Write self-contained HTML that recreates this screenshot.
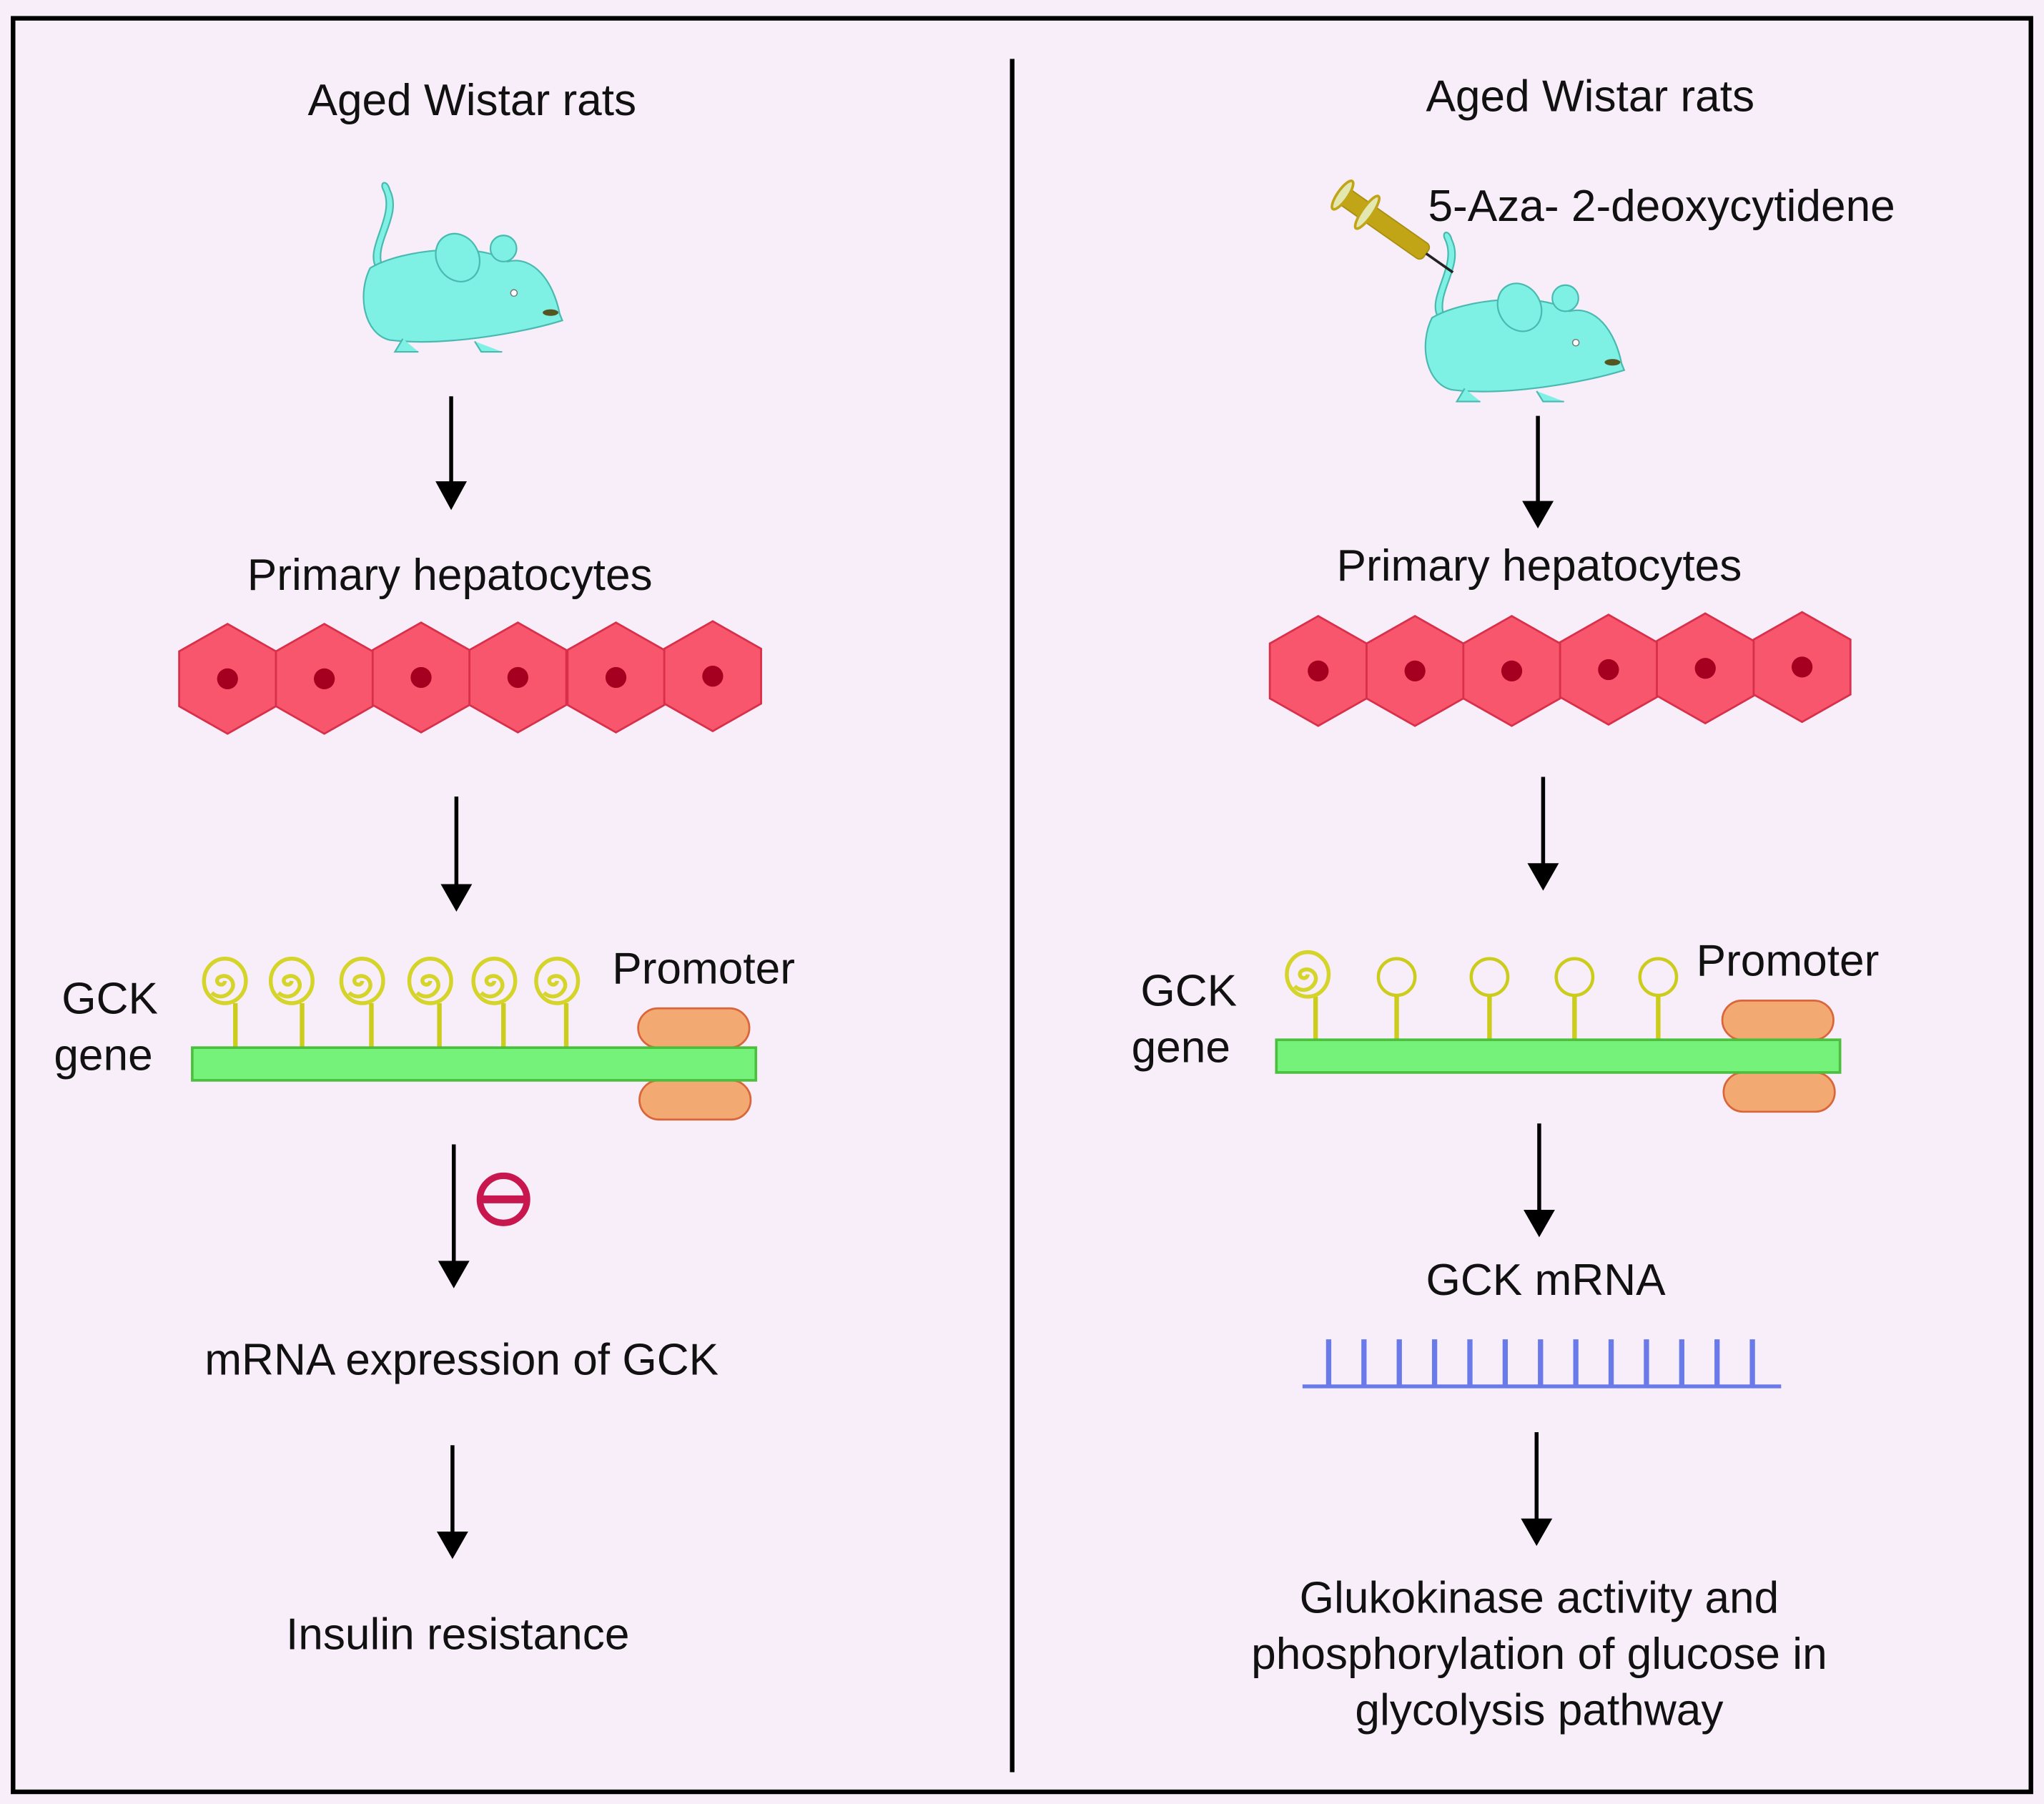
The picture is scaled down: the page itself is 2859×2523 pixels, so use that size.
<!DOCTYPE html>
<html><head><meta charset="utf-8"><style>
html,body{margin:0;padding:0;background:#f8eefa}
svg{display:block}
text{font-family:"Liberation Sans",sans-serif;fill:#111;font-size:34px}
</style></head><body>
<svg width="2859" height="2523" viewBox="0 0 1563 1379.3" preserveAspectRatio="none" xmlns="http://www.w3.org/2000/svg">
<defs>
<g id="hex"><polygon points="0,-42 37,-21 37,21 0,42 -37,21 -37,-21" fill="#f7566c" stroke="#d8304a" stroke-width="1.5"/><circle r="8" fill="#a50020"/></g>
<g id="spiral" fill="none" stroke="#d4d42a" stroke-width="3">
<path d="M0,0 a3,3 0 1 1 -4,-3 a7,7 0 0 1 10,8 a10,11 0 0 1 -16,4"/>
<ellipse rx="16" ry="17"/>
</g>
<g id="mouse">
<path d="M10,-40 C0,-55 25,-80 15,-100 C12,-106 18,-108 20,-100 C30,-80 8,-60 14,-42" fill="#7ef0e4" stroke="#4ab9b0" stroke-width="1.2"/>
<path d="M5,-40 C30,-55 90,-60 110,-45 C130,-50 145,-30 150,-5 L152,0 C120,10 60,20 20,15 C0,10 -5,-20 5,-40Z" fill="#7ef0e4" stroke="#4ab9b0" stroke-width="1.2"/>
<ellipse cx="72" cy="-48" rx="16" ry="19" transform="rotate(-30 72 -48)" fill="#7ef0e4" stroke="#4ab9b0" stroke-width="1.2"/>
<circle cx="107" cy="-55" r="10" fill="#7ef0e4" stroke="#4ab9b0" stroke-width="1.2"/>
<circle cx="115" cy="-21" r="2.5" fill="#fff" stroke="#777" stroke-width="0.8"/>
<ellipse cx="143" cy="-6" rx="6" ry="2.5" fill="#552"/>
<path d="M30,14 l-6,10 h18 M85,16 l5,8 h16" fill="#7ef0e4" stroke="#4ab9b0" stroke-width="1.2"/>
</g>
</defs>
<rect x="0" y="0" width="1563" height="1380" fill="#f8eefa"/>
<rect x="10" y="14" width="1543" height="1356" fill="none" stroke="#000" stroke-width="3.5"/>
<line x1="774" y1="45" x2="774" y2="1355" stroke="#000" stroke-width="3.5"/>

<g fill="#000" stroke="#000" stroke-width="3">
<line x1="345" y1="303" x2="345" y2="372"/><polygon points="333,368 357,368 345,390" stroke="none"/>
<line x1="349" y1="609" x2="349" y2="680"/><polygon points="337,676 361,676 349,697" stroke="none"/>
<line x1="347" y1="875" x2="347" y2="968"/><polygon points="335,964 359,964 347,985" stroke="none"/>
<line x1="346" y1="1105" x2="346" y2="1175"/><polygon points="334,1171 358,1171 346,1192" stroke="none"/>
<line x1="1176" y1="318" x2="1176" y2="387"/><polygon points="1164,383 1188,383 1176,404" stroke="none"/>
<line x1="1180" y1="594" x2="1180" y2="664"/><polygon points="1168,660 1192,660 1180,681" stroke="none"/>
<line x1="1177" y1="859" x2="1177" y2="929"/><polygon points="1165,925 1189,925 1177,946" stroke="none"/>
<line x1="1175" y1="1095" x2="1175" y2="1165"/><polygon points="1163,1161 1187,1161 1175,1182" stroke="none"/>
</g>

<text x="361" y="88" text-anchor="middle">Aged Wistar rats</text>
<text x="1216" y="85" text-anchor="middle">Aged Wistar rats</text>
<text x="1092" y="169">5-Aza- 2-deoxycytidene</text>
<text x="344" y="451" text-anchor="middle">Primary hepatocytes</text>
<text x="1177" y="444" text-anchor="middle">Primary hepatocytes</text>
<text x="84" y="775" text-anchor="middle">GCK</text>
<text x="79" y="818" text-anchor="middle">gene</text>
<text x="909" y="769" text-anchor="middle">GCK</text>
<text x="903" y="812" text-anchor="middle">gene</text>
<text x="538" y="752" text-anchor="middle">Promoter</text>
<text x="1367" y="746" text-anchor="middle">Promoter</text>
<text x="353" y="1051" text-anchor="middle">mRNA expression of GCK</text>
<text x="350" y="1261" text-anchor="middle">Insulin resistance</text>
<text x="1182" y="990" text-anchor="middle">GCK mRNA</text>
<text x="1177" y="1233" text-anchor="middle">Glukokinase activity and</text>
<text x="1177" y="1276" text-anchor="middle">phosphorylation of glucose in</text>
<text x="1177" y="1319" text-anchor="middle">glycolysis pathway</text>

<use href="#mouse" x="278" y="245"/>
<use href="#mouse" x="1090" y="283"/>

<g transform="translate(1025,148) rotate(35)">
<rect x="0" y="-7" width="80" height="14" rx="4" fill="#c2a516" stroke="#a88f10"/>
<line x1="80" y1="0" x2="105" y2="0" stroke="#222" stroke-width="2"/>
<ellipse cx="2" cy="0" rx="4" ry="13" fill="#e3e8b0" stroke="#c2a516" stroke-width="2"/>
<ellipse cx="25" cy="0" rx="4" ry="15" fill="#e3e8b0" stroke="#c2a516" stroke-width="2"/>
</g>

<use href="#hex" x="174" y="519"/><use href="#hex" x="248" y="519"/><use href="#hex" x="322" y="518"/>
<use href="#hex" x="396" y="518"/><use href="#hex" x="471" y="518"/><use href="#hex" x="545" y="517"/>
<use href="#hex" x="1008" y="513"/><use href="#hex" x="1082" y="513"/><use href="#hex" x="1156" y="513"/>
<use href="#hex" x="1230" y="512"/><use href="#hex" x="1304" y="511"/><use href="#hex" x="1378" y="510"/>

<g stroke="#cccc1c" stroke-width="3.5">
<line x1="180" y1="767" x2="180" y2="801"/><line x1="231" y1="767" x2="231" y2="801"/><line x1="284" y1="767" x2="284" y2="801"/>
<line x1="336" y1="767" x2="336" y2="801"/><line x1="385" y1="767" x2="385" y2="801"/><line x1="433" y1="767" x2="433" y2="801"/>
<line x1="1006" y1="762" x2="1006" y2="795"/><line x1="1068" y1="762" x2="1068" y2="795"/><line x1="1139" y1="762" x2="1139" y2="795"/>
<line x1="1204" y1="762" x2="1204" y2="795"/><line x1="1268" y1="762" x2="1268" y2="795"/>
</g>
<use href="#spiral" x="172" y="750"/><use href="#spiral" x="223" y="750"/><use href="#spiral" x="277" y="750"/>
<use href="#spiral" x="329" y="750"/><use href="#spiral" x="378" y="750"/><use href="#spiral" x="426" y="750"/>
<use href="#spiral" x="1000" y="745"/>
<g fill="#f8eefa" stroke="#cccc1c" stroke-width="2.5">
<circle cx="1068" cy="747" r="14"/><circle cx="1139" cy="747" r="14"/><circle cx="1204" cy="747" r="14"/><circle cx="1268" cy="747" r="14"/>
</g>

<g fill="#f3aa72" stroke="#d9663a" stroke-width="1.5">
<rect x="488" y="771" width="85" height="30" rx="15"/><rect x="489" y="826" width="85" height="30" rx="15"/>
<rect x="1317" y="765" width="85" height="30" rx="15"/><rect x="1318" y="820" width="85" height="30" rx="15"/>
</g>
<rect x="147" y="801" width="431" height="25" fill="#74f27a" stroke="#4cbf3f" stroke-width="2"/>
<rect x="976" y="795" width="431" height="25" fill="#74f27a" stroke="#4cbf3f" stroke-width="2"/>

<circle cx="385" cy="917" r="18" fill="none" stroke="#c8174e" stroke-width="5"/>
<line x1="368" y1="917" x2="402" y2="917" stroke="#c8174e" stroke-width="6"/>

<g stroke="#6a7ae8" stroke-width="4">
<line x1="996" y1="1060" x2="1362" y2="1060" stroke-width="3"/>
<line x1="1016" y1="1024" x2="1016" y2="1060"/><line x1="1043" y1="1024" x2="1043" y2="1060"/><line x1="1070" y1="1024" x2="1070" y2="1060"/>
<line x1="1097" y1="1024" x2="1097" y2="1060"/><line x1="1124" y1="1024" x2="1124" y2="1060"/><line x1="1151" y1="1024" x2="1151" y2="1060"/>
<line x1="1178" y1="1024" x2="1178" y2="1060"/><line x1="1205" y1="1024" x2="1205" y2="1060"/><line x1="1232" y1="1024" x2="1232" y2="1060"/>
<line x1="1259" y1="1024" x2="1259" y2="1060"/><line x1="1286" y1="1024" x2="1286" y2="1060"/><line x1="1313" y1="1024" x2="1313" y2="1060"/>
<line x1="1340" y1="1024" x2="1340" y2="1060"/>
</g>
</svg>
</body></html>
